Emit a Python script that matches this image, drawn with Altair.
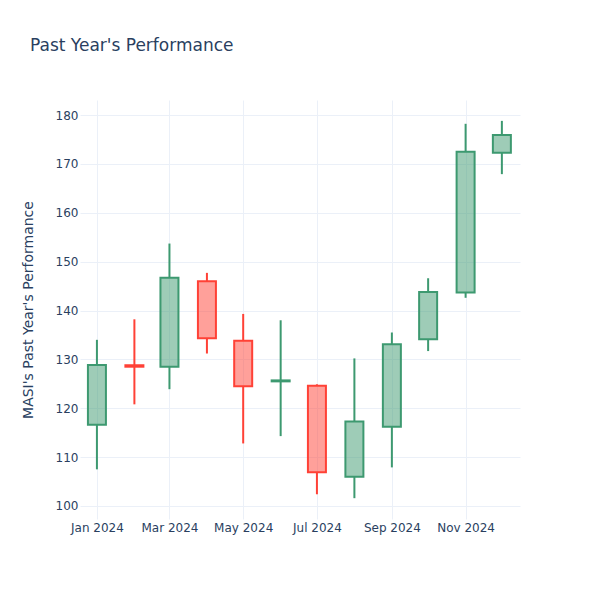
import altair as alt
import pandas as pd

dates = ["2024-01-01", "2024-02-01", "2024-03-01", "2024-04-01", "2024-05-01", "2024-06-01",
         "2024-07-01", "2024-08-01", "2024-09-01", "2024-10-01", "2024-11-01", "2024-12-01"]
open_ = [116.6, 128.8, 128.5, 146.0, 133.8, 125.5, 124.6, 106.0, 116.2, 134.1, 143.7, 172.3]
close = [128.85, 128.5, 146.7, 134.3, 124.5, 125.7, 106.9, 117.3, 133.1, 143.8, 172.5, 175.9]
high = [134.0, 138.2, 153.7, 147.7, 139.3, 138.0, 124.9, 130.2, 135.5, 146.6, 178.2, 178.8]
low = [107.5, 120.8, 123.9, 131.2, 112.8, 114.3, 102.4, 101.6, 107.9, 131.7, 142.6, 167.9]

df = pd.DataFrame({"date": dates, "open": open_, "close": close, "high": high, "low": low})
df["top"] = df[["open", "close"]].max(axis=1)
df["bot"] = df[["open", "close"]].min(axis=1)
df["dir"] = ["inc" if c >= o else "dec" for o, c in zip(df["open"], df["close"])]

FONT = "DejaVu Sans"
TXT = "#2a3f5f"
GRID = "#EBF0F8"

xscale = alt.Scale(type="utc", padding=0,
                   domain=[alt.DateTime(year=2023, month=12, date=18, utc=True),
                           alt.DateTime(year=2024, month=12, date=16, utc=True)])
yscale = alt.Scale(domain=[97.34, 183.07], nice=False, zero=False)
cscale = alt.Scale(domain=["inc", "dec"], range=["#3D9970", "#FF4136"])

xticks = [alt.DateTime(year=2024, month=m, date=1, utc=True) for m in [1, 3, 5, 7, 9, 11]]

xaxis = alt.Axis(values=xticks, format="%b %Y", title=None, grid=True, gridColor=GRID,
                 domain=False, ticks=False, labelFont=FONT, labelFontSize=12,
                 labelColor=TXT, labelPadding=3)
yaxis = alt.Axis(values=list(range(100, 181, 10)), title="MASI's Past Year's Performance",
                 grid=True, gridColor=GRID, domain=False, ticks=False, labelFont=FONT,
                 labelFontSize=12, labelColor=TXT, labelPadding=2, titleFont=FONT,
                 titleFontSize=14, titleColor=TXT, titleFontWeight="normal",
                 titleAngle=-90, titleX=-48, titleY=209.5, titleAlign="center",
                 titleBaseline="alphabetic")

base = alt.Chart(df).encode(
    x=alt.X("date:T", scale=xscale, axis=xaxis),
    color=alt.Color("dir:N", scale=cscale, legend=None),
)

wick_up = base.mark_rule(strokeWidth=2).encode(
    y=alt.Y("top:Q", scale=yscale, axis=yaxis), y2="high:Q")
wick_dn = base.mark_rule(strokeWidth=2).encode(
    y=alt.Y("low:Q", scale=yscale), y2="bot:Q")
body = base.mark_bar(width=18, strokeWidth=2, fillOpacity=0.5).encode(
    y=alt.Y("open:Q", scale=yscale), y2="close:Q",
    fill=alt.Fill("dir:N", scale=cscale, legend=None),
    stroke=alt.Stroke("dir:N", scale=cscale, legend=None),
)

chart = alt.layer(wick_up, wick_dn, body).properties(
    width=440, height=419,
    background="white",
    title=alt.TitleParams("Past Year's Performance", anchor="start", frame="group",
                          dx=-50, offset=32, baseline="alphabetic", fontSize=17,
                          font=FONT, color=TXT, fontWeight="normal"),
    autosize=alt.AutoSizeParams(type="none"),
    padding={"left": 72, "top": 92, "right": 72, "bottom": 73},
).configure_view(strokeWidth=0, stroke="transparent")

chart.save("out.html", embed_options={"renderer": "svg", "actions": False})
